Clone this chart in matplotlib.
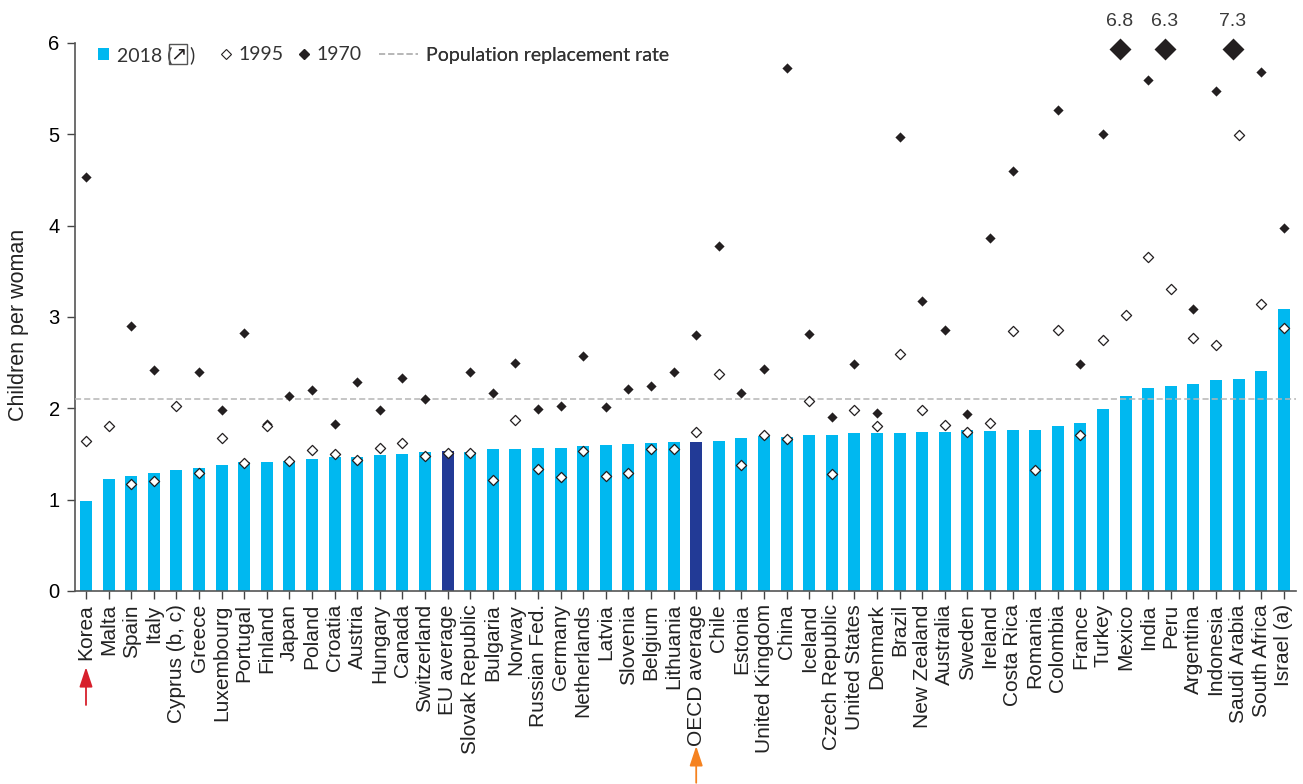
import numpy as np
import matplotlib
matplotlib.use("Agg")
import matplotlib.pyplot as plt
from matplotlib.lines import Line2D
from matplotlib.patches import Patch, Rectangle

countries = ["Korea", "Malta", "Spain", "Italy", "Cyprus (b, c)", "Greece", "Luxembourg", "Portugal", "Finland",
             "Japan", "Poland", "Croatia", "Austria", "Hungary", "Canada", "Switzerland", "EU average",
             "Slovak Republic", "Bulgaria", "Norway", "Russian Fed.", "Germany", "Netherlands", "Latvia", "Slovenia",
             "Belgium", "Lithuania", "OECD average", "Chile", "Estonia", "United Kingdom", "China", "Iceland",
             "Czech Republic", "United States", "Denmark", "Brazil", "New Zealand", "Australia", "Sweden", "Ireland",
             "Costa Rica", "Romania", "Colombia", "France", "Turkey", "Mexico", "India", "Peru", "Argentina",
             "Indonesia", "Saudi Arabia", "South Africa", "Israel (a)"]

y2018 = [0.98, 1.23, 1.26, 1.29, 1.32, 1.35, 1.38, 1.41, 1.41, 1.42, 1.44, 1.47, 1.47, 1.49, 1.50, 1.52, 1.53,
         1.52, 1.56, 1.56, 1.57, 1.57, 1.59, 1.60, 1.61, 1.62, 1.63, 1.63, 1.64, 1.67, 1.70, 1.69, 1.71,
         1.71, 1.73, 1.73, 1.73, 1.74, 1.74, 1.76, 1.75, 1.76, 1.76, 1.81, 1.84, 1.99, 2.13, 2.22, 2.25, 2.27,
         2.31, 2.32, 2.41, 3.09]

y1995 = [1.64, 1.81, 1.17, 1.20, 2.03, 1.29, 1.67, 1.40, 1.81, 1.42, 1.54, 1.50, 1.43, 1.57, 1.62, 1.48, 1.51,
         1.51, 1.22, 1.87, 1.34, 1.25, 1.53, 1.26, 1.29, 1.55, 1.55, 1.74, 2.38, 1.38, 1.71, 1.66, 2.08,
         1.28, 1.98, 1.81, 2.59, 1.98, 1.82, 1.74, 1.84, 2.85, 1.33, 2.86, 1.71, 2.75, 3.02, 3.66, 3.31, 2.77,
         2.69, 4.99, 3.14, 2.88]

nan = float("nan")
y1970 = [4.53, nan, 2.90, 2.42, nan, 2.40, 1.98, 2.83, 1.83, 2.13, 2.20, 1.83, 2.29, 1.98, 2.33, 2.10, nan,
         2.40, 2.17, 2.50, 1.99, 2.03, 2.57, 2.02, 2.21, 2.25, 2.40, 2.80, 3.78, 2.17, 2.43, 5.73, 2.81,
         1.91, 2.48, 1.95, 4.97, 3.17, 2.86, 1.94, 3.87, 4.60, nan, 5.27, 2.48, 5.00, 6.8, 5.59, 6.3, 3.09,
         5.47, 7.3, 5.68, 3.97]

averages = ["EU average", "OECD average"]
replacement_rate = 2.1

BLUE = "#00B8F0"
NAVY = "#223A96"
DARK = "#231F20"
FONT = "Liberation Sans"
LEGEND_FONT = "Lato"
W, H = 1303, 784


def fx(px):
    return px / W


def fy(py):
    return 1 - py / H


def main():
    fig = plt.figure(figsize=(W / 100, H / 100), dpi=100)
    ax = fig.add_axes([fx(75), fy(591), fx(1296 - 75), (591 - 43) / H])

    x = np.arange(len(countries))
    colors = [NAVY if c in averages else BLUE for c in countries]
    ax.bar(x, y2018, width=0.53, color=colors, zorder=2)
    ax.axhline(replacement_rate, color="#B5B5B5", lw=1.1, ls=(0, (4, 2)), zorder=3)

    # 1970 values above the axis get a big marker pinned near the top, with the value written over it
    a1970 = np.array(y1970)
    off_scale = a1970 > 6
    ax.scatter(x[~off_scale], a1970[~off_scale], marker="D", s=27, color=DARK, linewidths=0, zorder=4)
    ax.scatter(x[off_scale] - 0.26, np.full(off_scale.sum(), 5.93), marker="D", s=125, color=DARK, linewidths=0,
               zorder=4, clip_on=False)
    for xi, v in zip(x[off_scale] - 0.26, a1970[off_scale]):
        ax.annotate(f"{v:.1f}", (xi, 5.93), xytext=(0, 14), textcoords="offset points", ha="center", va="bottom",
                    fontsize=14, color="#3A3A3A", family=FONT, annotation_clip=False)

    ax.scatter(x, y1995, marker="D", s=27, facecolor="white", edgecolor=DARK, linewidths=0.9, zorder=5)

    ax.set_xlim((75 - 86) / 22.6, (1296 - 86) / 22.6)
    ax.set_ylim(0, 6)
    ax.set_yticks(range(7))
    ax.set_xticks(x)
    ax.set_xticklabels(countries, rotation=90, fontsize=15, family=FONT, color="#222222")
    ax.tick_params(axis="x", length=6, width=1, color="#444444", pad=3.5)
    ax.tick_params(axis="y", length=6, width=1, color="#444444", labelsize=14.5, pad=5)
    for label in ax.get_yticklabels():
        label.set_family(FONT)
    ax.set_ylabel("Children per woman", fontsize=15.5, family=FONT, color="#222222")
    ax.yaxis.set_label_coords((29 - 75) / (1296 - 75), 0.486)
    for s in ["top", "right"]:
        ax.spines[s].set_visible(False)
    for s in ["left", "bottom"]:
        ax.spines[s].set_color("#555555")
        ax.spines[s].set_linewidth(1.2)

    # legend entries sit at uneven gaps, so each one gets its own small legend
    entries = [
        (Patch(facecolor=BLUE, label="2018 ("), 98, 0.57),
        (Line2D([], [], marker="D", ls="", ms=5, mfc="white", mec=DARK, mew=0.8, label="1995"), 221, 0.5),
        (Line2D([], [], marker="D", ls="", ms=5, mfc=DARK, mec=DARK, label="1970"), 299, 0.5),
        (Line2D([], [], color="#B5B5B5", lw=1.1, ls=(0, (4, 2)), label="Population replacement rate"), 379, 2.0),
    ]
    for handle, px, hlen in entries:
        leg = ax.legend(handles=[handle], loc="center left", bbox_to_anchor=(fx(px), fy(55)),
                        bbox_transform=fig.transFigure, frameon=False,
                        prop={"family": LEGEND_FONT, "size": 14}, labelcolor="#333333",
                        handlelength=hlen, handleheight=0.6, handletextpad=0.4, borderpad=0, borderaxespad=0)
        ax.add_artist(leg)

    # small boxed arrow inside the 2018 legend entry
    fig.add_artist(Rectangle((fx(169), fy(64)), fx(18), 20 / H, transform=fig.transFigure, fc="none", ec="#555555",
                             lw=1))
    fig.text(fx(178), fy(54), "\u2197", ha="center", va="center", fontsize=14, color=DARK, family="DejaVu Sans")
    fig.text(fx(189), fy(55), ")", ha="left", va="center", fontsize=14, color="#333333", family=LEGEND_FONT)

    # arrows pointing at Korea and the OECD average
    trans = ax.get_xaxis_transform()
    arrows = [("Korea", -0.208, -0.139, "#D7202C"), ("OECD average", -0.350, -0.283, "#F58220")]
    for name, y_start, y_end, col in arrows:
        i = countries.index(name)
        ax.annotate("", xy=(i, y_end), xytext=(i, y_start), xycoords=trans, textcoords=trans,
                    annotation_clip=False,
                    arrowprops=dict(arrowstyle="-|>,head_width=0.4,head_length=1.2", color=col, lw=1.3,
                                    shrinkA=0, shrinkB=0))

    fig.savefig("out.png", dpi=100)


if __name__ == "__main__":
    main()
